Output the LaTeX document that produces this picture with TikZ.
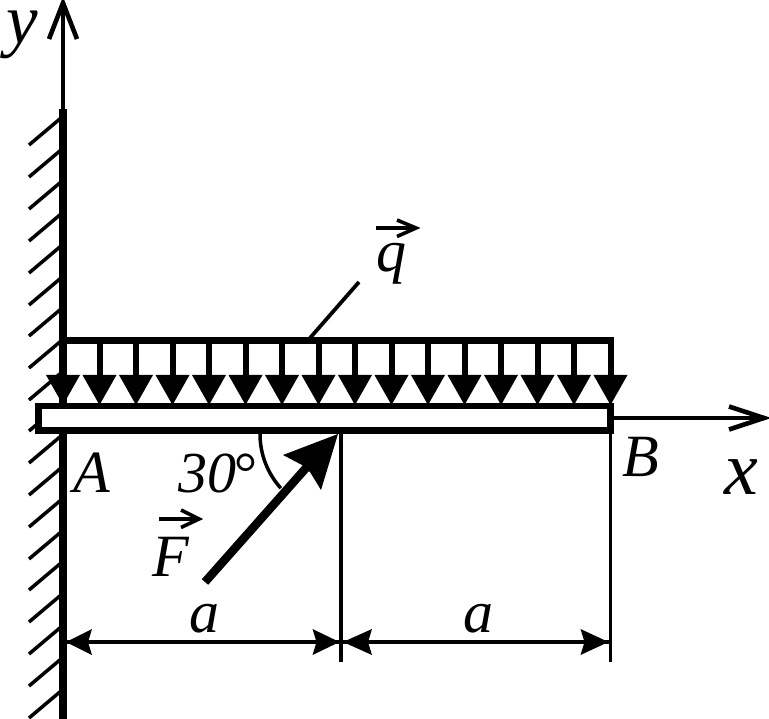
\documentclass[tikz,border=0pt]{standalone}
\usepackage{fontspec}
\setmainfont{Liberation Serif}
\tikzset{
  lbl/.style={anchor=base west,inner sep=0pt,outer sep=0pt,font=\fontsize{60}{60}\selectfont\itshape},
  biglbl/.style={lbl,font=\fontsize{76}{76}\selectfont\itshape},
  ylbl/.style={lbl,font=\fontsize{71}{71}\selectfont\itshape},
  smalllbl/.style={lbl,font=\fontsize{58}{58}\selectfont\itshape},
  hatchline/.style={line width=3.5pt},
  thinline/.style={line width=3.8pt},
  barb/.style={line width=4.6pt,miter limit=20,line join=miter},
  vecbarb/.style={line width=3.6pt,miter limit=20,line join=miter}
}
\begin{document}
\begin{tikzpicture}[x=1pt,y=-1pt]
\clip (0,0) rectangle (769,719);
\fill[white] (0,0) rectangle (769,719);
% key points
\coordinate (wallT) at (63,109);
\coordinate (wallB) at (63,725);
\coordinate (yTip) at (63,3);
\coordinate (xS) at (612,418);
\coordinate (xTip) at (764,418);
\coordinate (midB) at (341,434);
\coordinate (midD) at (341,662);
\coordinate (endB) at (610.5,434);
\coordinate (endD) at (610.5,662);
\coordinate (dimL) at (66,642);
\coordinate (dimR) at (610.5,642);
% hatching
\foreach \yy in {145,177,209,241,273,305,336,368,400,431,463,495,527,559,590,622,654,686,718}
  \draw[hatchline] (29,\yy) -- (61,\yy-27);
% y axis and wall
\draw[line width=3.6pt] (wallT) -- (yTip);
\draw[barb] (49,39) -- (yTip) -- (77,39);
\draw[line width=8pt] (wallT) -- (wallB);
% distributed load
\draw[line width=7pt] (63,340.5) -- (614,340.5);
\foreach \i in {0,...,15} {
  \pgfmathsetmacro{\xx}{63+\i*36.5}
  \draw[line width=6pt] (\xx,340) -- (\xx,380);
  \fill (\xx-17,375) -- (\xx+17,375) -- (\xx,405) -- cycle;
}
% beam
\draw[line width=6.6pt,fill=white] (38.5,406) rectangle (610.5,430.5);
% x axis
\draw[line width=4.6pt] (xS) -- (xTip);
\draw[barb] (729,406.5) -- (xTip) -- (729,429.5);
% dimension lines
\draw[thinline] (midB) -- (midD);
\draw[thinline] (endB) -- (endD);
\draw[thinline] (dimL) -- (dimR);
\fill (dimL) -- ++(26,-13) -- ++(-4,13) -- ++(4,13) -- cycle;
\fill (339.5,642) -- ++(-27,-13) -- ++(4,13) -- ++(-4,13) -- cycle;
\fill (343,642) -- ++(29,-13) -- ++(-4,13) -- ++(4,13) -- cycle;
\fill (608.5,642) -- ++(-28,-13) -- ++(4,13) -- ++(-4,13) -- cycle;
% force F
\coordinate (fTail) at (205,582);
\coordinate (fTip) at (338,434);
\draw[line width=8.5pt] (fTail) -- (306,468);
\fill (fTip) -- (283,455) -- (302,465) -- (310,472) -- (321,490) -- cycle;
% angle arc
\draw[line width=3.5pt] (260,434) arc[start angle=180,end angle=138,radius=81];
% leader to q
\coordinate (lead0) at (310,338);
\coordinate (lead1) at (359,282);
\draw[line width=3.8pt] (lead0) -- (lead1);
% vector arrows
\draw[line width=4pt] (376,228) -- (415,228);
\draw[vecbarb] (397,220) -- (416,228) -- (397,236.5);
\draw[line width=4pt] (159,519) -- (198,519);
\draw[vecbarb] (181,510) -- (199,519) -- (181,527.5);
% labels
\node[ylbl] (ly) at (6,44) {y};
\node[biglbl] (lx) at (724,494) {x};
\node[lbl] (lA) at (73,492) {A};
\node[lbl] (lB) at (622,476) {B};
\node[lbl] (lF) at (152,576) {F};
\node[lbl] (lq) at (376,272) {q};
\node[smalllbl] (l30) at (178,492) {30\kern-4pt°};
\node[lbl] (la1) at (189,632) {a};
\node[lbl] (la2) at (463,632) {a};
\end{tikzpicture}
\end{document}
